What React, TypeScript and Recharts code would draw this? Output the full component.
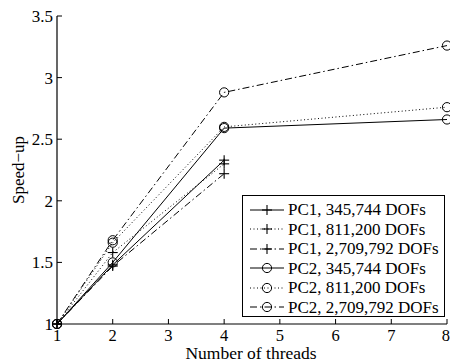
import { Legend, Line, LineChart, XAxis, YAxis } from "recharts";

const threads = [1, 2, 4, 8];
const pc1Small = [1, 1.48, 2.33, null];
const pc1Mid = [1, 1.58, 2.3, null];
const pc1Large = [1, 1.47, 2.22, null];
const pc2Small = [1, 1.5, 2.59, 2.66];
const pc2Mid = [1, 1.66, 2.6, 2.76];
const pc2Large = [1, 1.68, 2.88, 3.26];

const xTicks = [1, 2, 3, 4, 5, 6, 7, 8];
const yTicks = [1, 1.5, 2, 2.5, 3, 3.5];

const seriesNames = [
  "PC1, 345,744 DOFs",
  "PC1, 811,200 DOFs",
  "PC1, 2,709,792 DOFs",
  "PC2, 345,744 DOFs",
  "PC2, 811,200 DOFs",
  "PC2, 2,709,792 DOFs",
];

const font = "'Liberation Serif', 'Times New Roman', serif";
const ink = "#000";

const DOTTED = "1 2.5";
const DASHDOT = "7 3 1.5 3";

const series = [
  { key: "pc1Small", dash: undefined, marker: "plus" },
  { key: "pc1Mid", dash: DOTTED, marker: "plus" },
  { key: "pc1Large", dash: DASHDOT, marker: "plus" },
  { key: "pc2Small", dash: undefined, marker: "circle" },
  { key: "pc2Mid", dash: DOTTED, marker: "circle" },
  { key: "pc2Large", dash: DASHDOT, marker: "circle" },
];

const data = threads.map((t, i) => ({
  threads: t,
  pc1Small: pc1Small[i],
  pc1Mid: pc1Mid[i],
  pc1Large: pc1Large[i],
  pc2Small: pc2Small[i],
  pc2Mid: pc2Mid[i],
  pc2Large: pc2Large[i],
}));

function Marker({ cx, cy, kind }: { cx: number; cy: number; kind: string }) {
  if (cx == null || cy == null || Number.isNaN(cy)) return <g />;
  if (kind === "plus") {
    return (
      <g stroke={ink} strokeWidth={1.1}>
        <line x1={cx - 5} y1={cy} x2={cx + 5} y2={cy} />
        <line x1={cx} y1={cy - 5} x2={cx} y2={cy + 5} />
      </g>
    );
  }
  return <circle cx={cx} cy={cy} r={4.6} fill="none" stroke={ink} strokeWidth={1} />;
}

// matlab-style boxed legend, placed over the lower right of the plot
function LegendBox() {
  return (
    <div
      style={{
        border: "1.5px solid #000",
        background: "#fff",
        width: 203,
        height: 122,
        boxSizing: "border-box",
        paddingTop: 4,
        fontFamily: font,
        fontSize: 17,
        color: ink,
      }}
    >
      {series.map((s, i) => (
        <div key={s.key} style={{ display: "flex", alignItems: "center", height: 19.5 }}>
          <svg width={45} height={14} style={{ flex: "none" }}>
            <line x1={7} y1={7} x2={41} y2={7} stroke={ink} strokeWidth={1} strokeDasharray={s.dash} />
            <Marker cx={24} cy={7} kind={s.marker} />
          </svg>
          <span style={{ whiteSpace: "nowrap", lineHeight: "19px" }}>{seriesNames[i]}</span>
        </div>
      ))}
    </div>
  );
}

export default function App() {
  return (
    <div style={{ position: "absolute", left: 0, top: 0, background: "#fff" }}>
      <LineChart width={450} height={362} data={data} margin={{ top: 16, right: 3, left: 0, bottom: 0 }}>
        <XAxis
          xAxisId="bottom"
          dataKey="threads"
          type="number"
          domain={[1, 8]}
          ticks={xTicks}
          height={38}
          tickSize={-5}
          tickMargin={10}
          axisLine={{ stroke: ink, strokeWidth: 1.2 }}
          tickLine={{ stroke: ink }}
          tick={{ fill: ink, fontSize: 16.5, fontFamily: font }}
          label={{
            content: () => (
              <text x={251} y={359} textAnchor="middle" fontFamily={font} fontSize={17.5} fill={ink}>
                Number of threads
              </text>
            ),
          }}
        />
        <XAxis
          xAxisId="top"
          orientation="top"
          dataKey="threads"
          type="number"
          domain={[1, 8]}
          ticks={xTicks}
          height={0}
          tickSize={-5}
          axisLine={{ stroke: ink, strokeWidth: 1.2 }}
          tickLine={{ stroke: ink }}
          tick={false}
        />
        <YAxis
          yAxisId="left"
          type="number"
          domain={[1, 3.5]}
          ticks={yTicks}
          width={57}
          tickSize={-5}
          tickMargin={9}
          axisLine={{ stroke: ink, strokeWidth: 1.2 }}
          tickLine={{ stroke: ink }}
          tick={{ fill: ink, fontSize: 17, fontFamily: font }}
          label={{
            content: () => (
              <text
                x={24}
                y={170}
                transform="rotate(-90 24 170)"
                textAnchor="middle"
                fontFamily={font}
                fontSize={17}
                fill={ink}
              >
                Speed−up
              </text>
            ),
          }}
        />
        <YAxis
          yAxisId="right"
          orientation="right"
          type="number"
          domain={[1, 3.5]}
          ticks={yTicks}
          width={0}
          tickSize={-5}
          axisLine={{ stroke: ink, strokeWidth: 1.2 }}
          tickLine={{ stroke: ink }}
          tick={false}
        />
        {series.map((s) => (
          <Line
            key={s.key}
            xAxisId="bottom"
            yAxisId="left"
            dataKey={s.key}
            stroke={ink}
            strokeWidth={1}
            strokeDasharray={s.dash}
            dot={(p: any) => <Marker key={`${s.key}-${p.index}`} cx={p.cx} cy={p.cy} kind={s.marker} />}
            activeDot={false}
            connectNulls={false}
            isAnimationActive={false}
          />
        ))}
        <Legend
          layout="vertical"
          align="center"
          verticalAlign="middle"
          content={() => <LegendBox />}
          wrapperStyle={{ left: 242, top: 195, width: 203, height: 122 }}
        />
      </LineChart>
    </div>
  );
}
